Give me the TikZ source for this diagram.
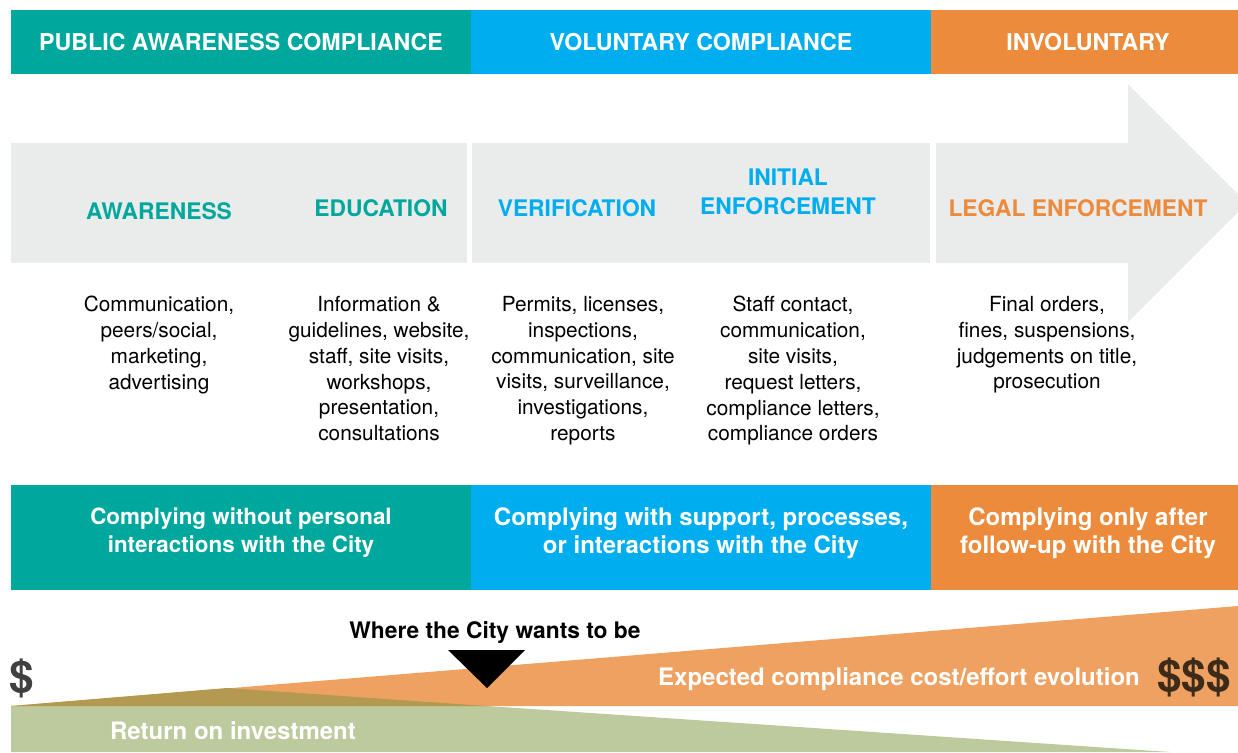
\documentclass[tikz,border=0pt]{standalone}
\usepackage{fontspec}
\setmainfont{TeX Gyre Heros}
\usepackage{tikz}

\definecolor{AwareTeal}{RGB}{0,167,157}
\definecolor{VolBlue}{RGB}{0,174,239}
\definecolor{InvOrange}{RGB}{237,139,60}
\definecolor{ArrowGrey}{RGB}{234,235,235}
\definecolor{CostOrange}{RGB}{239,161,98}
\definecolor{RoiGreen}{RGB}{188,202,157}
\definecolor{RoiOlive}{RGB}{179,154,80}
\definecolor{DollarGrey}{RGB}{64,64,64}
\definecolor{DollarBrown}{RGB}{61,43,26}

\tikzset{
  band/.style={font=\bfseries\fontsize{11.6}{14}\selectfont, text=white, align=center, inner sep=0pt},
  claim/.style={font=\bfseries\fontsize{12}{14}\selectfont, text=white, align=center, inner sep=0pt},
  stage/.style={font=\bfseries\fontsize{11.4}{14.5}\selectfont, align=center, inner sep=0pt},
  body/.style={font=\fontsize{10.4}{12.9}\selectfont, align=center, anchor=north, inner sep=0pt},
}

\begin{document}
\begin{tikzpicture}[x=0.5pt,y=-0.5pt]
  \clip (0,0) rectangle (1238,752);
  % header bands
  \fill[AwareTeal] (11,10) rectangle (471,74);
  \fill[VolBlue] (471,10) rectangle (931,74);
  \fill[InvOrange] (931,10) rectangle (1238,74);
  \node[band] (hpub) at (241,42) {PUBLIC AWARENESS COMPLIANCE};
  \node[band] (hvol) at (701,42) {VOLUNTARY COMPLIANCE};
  \node[band] (hinv) at (1088,42) {INVOLUNTARY};

  % grey arrow
  \fill[ArrowGrey] (11,143) rectangle (467,263);
  \fill[ArrowGrey] (472,143) rectangle (930,263);
  \fill[ArrowGrey] (936,143) -- (1128,143) -- (1128,84) -- (1247,203)
    -- (1128,322) -- (1128,263) -- (936,263) -- cycle;
  \node[stage,text=AwareTeal] (aware) at (159,211) {AWARENESS};
  \node[stage,text=AwareTeal] (educ) at (381,208) {EDUCATION};
  \node[stage,text=VolBlue] (verif) at (577,208) {VERIFICATION};
  \node[stage,text=VolBlue] (initenf) at (788,192) {INITIAL\\ENFORCEMENT};
  \node[stage,text=InvOrange] (legal) at (1078,208) {LEGAL ENFORCEMENT};

  % tools under each stage
  \node[body] (taware) at (159,296) {Communication,\\peers/social,\\marketing,\\advertising};
  \node[body] (teduc) at (379,296) {Information \&\\guidelines, website,\\staff, site visits,\\workshops,\\presentation,\\consultations};
  \node[body] (tverif) at (583,296) {Permits, licenses,\\inspections,\\communication, site\\visits, surveillance,\\investigations,\\reports};
  \node[body] (tinit) at (793,296) {Staff contact,\\communication,\\site visits,\\request letters,\\compliance letters,\\compliance orders};
  \node[body] (tlegal) at (1047,296) {Final orders,\\fines, suspensions,\\judgements on title,\\prosecution};

  % lower bands
  \fill[AwareTeal] (11,485) rectangle (471,590);
  \fill[VolBlue] (471,485) rectangle (931,590);
  \fill[InvOrange] (931,485) rectangle (1238,590);
  \node[claim,font=\bfseries\fontsize{11.2}{14}\selectfont] (bpub) at (241,533) {Complying without personal\\interactions with the City};
  \node[claim] (bvol) at (701,533) {Complying with support, processes,\\or interactions with the City};
  \node[claim] (binv) at (1088,533) {Complying only after\\follow-up with the City};

  % cost vs return wedges
  \fill[RoiGreen] (11,706) -- (487,706) -- (1170,752) -- (11,752) -- cycle;
  \fill[CostOrange] (11,706) -- (1238,606) -- (1238,706) -- cycle;
  \fill[RoiOlive] (11,706) -- (227,688) -- (487,706) -- cycle;
  \fill (448,650) -- (525,650) -- (487,688) -- cycle;
  \node[stage] (target) at (495,632) {Where the City wants to be};
  \node[claim] (cost) at (899,679) {Expected compliance cost/effort evolution};
  \node[claim] (roi) at (233,731) {Return on investment};
  \node[font=\bfseries\fontsize{22}{22}\selectfont, text=DollarGrey, inner sep=0pt] (low) at (22,678) {\$};
  \node[font=\bfseries\fontsize{22}{22}\selectfont, text=DollarBrown, inner sep=0pt] (high) at (1194,677) {\$\$\$};
\end{tikzpicture}
\end{document}
